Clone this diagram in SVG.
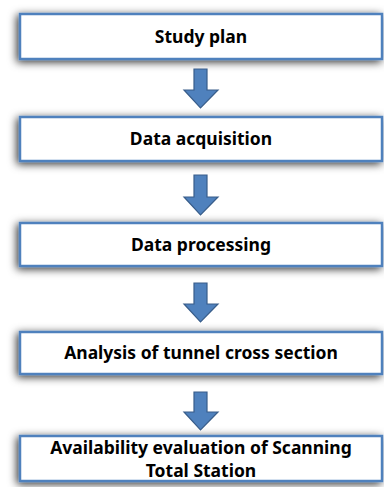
<svg xmlns="http://www.w3.org/2000/svg" width="384" height="487" viewBox="0 0 384 487">
<defs>
<filter id="sh" x="-10%" y="-50%" width="120%" height="200%">
<feDropShadow dx="-2" dy="2" stdDeviation="4" flood-color="#000" flood-opacity="0.8"/>
</filter>
<style>
.box{fill:#fff;stroke:#4f81bd;stroke-width:2.5;filter:url(#sh)}
.lbl{font-family:"Noto Sans","Open Sans","DejaVu Sans",sans-serif;font-weight:bold;font-size:17.5px;fill:#000;text-anchor:middle}
.arr{fill:#4f81bd;stroke:#385d8a;stroke-width:1.2}
</style>
</defs>
<rect width="384" height="487" fill="#fff"/>
<g id="n1"><rect class="box" x="20" y="14" width="362" height="45"/><text class="lbl" x="201" y="43">Study plan</text></g>
<g id="n2"><rect class="box" x="20" y="117" width="362" height="44"/><text class="lbl" x="201" y="145">Data acquisition</text></g>
<g id="n3"><rect class="box" x="20" y="223" width="362" height="43"/><text class="lbl" x="201" y="251">Data processing</text></g>
<g id="n4"><rect class="box" x="20" y="332" width="362" height="42"/><text class="lbl" x="201" y="359">Analysis of tunnel cross section</text></g>
<g id="n5"><rect class="box" x="20" y="436" width="362" height="45"/><text class="lbl" x="201" y="454">Availability evaluation of Scanning</text><text class="lbl" x="201" y="477">Total Station</text></g>
<g id="connectors">
<path class="arr" d="M194,69 H207 V90 H218 L200.5,108 L184,90 H194 Z"/>
<path class="arr" d="M194,175 H207 V197 H218 L200.5,215 L184,197 H194 Z"/>
<path class="arr" d="M194,283 H207 V304 H218 L200.5,322 L184,304 H194 Z"/>
<path class="arr" d="M194,392 H207 V412 H218 L200.5,430 L184,412 H194 Z"/>
</g>
</svg>
